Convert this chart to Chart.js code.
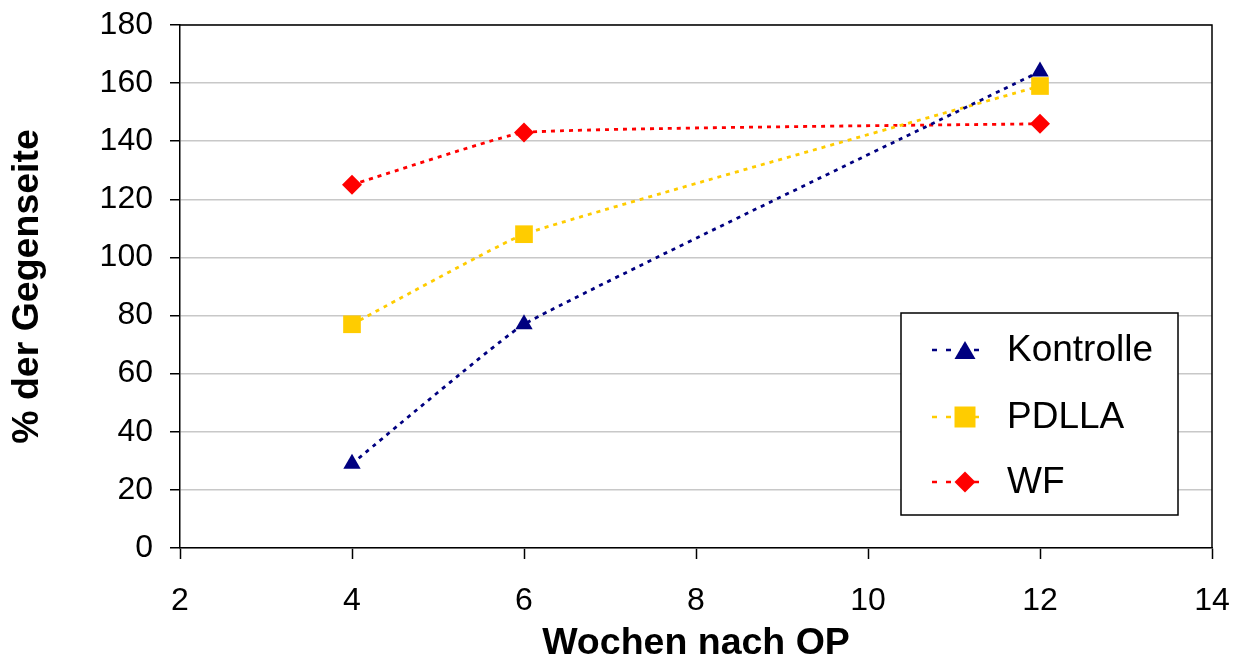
<!DOCTYPE html>
<html lang="de">
<head>
  <meta charset="UTF-8">
  <title>% der Gegenseite</title>
  <script src="https://cdn.jsdelivr.net/npm/chart.js"></script>
  <style>
    * {
      box-sizing: border-box;
      margin: 0;
      padding: 0;
    }

    body {
      background: #fff;
      width: 1240px;
      height: 662px;
      overflow: hidden;
    }

    .chart-box {
      position: relative;
      width: 1240px;
      height: 662px;
    }
  </style>
</head>
<body>
  <div class="chart-box">
    <canvas id="weeksChart" width="1240" height="662"></canvas>
  </div>

  <script>
    // values
    const weeks = [4, 6, 12];
    const kontrolle = [29, 77, 164];
    const pdlla = [77, 108, 159];
    const wf = [125, 143, 146];

    const seriesNames = ['Kontrolle', 'PDLLA', 'WF'];
    const seriesColors = ['#000080', '#FFCC00', '#FF0000'];
    const seriesMarkers = ['triangle', 'rect', 'rectRot'];
    const markerRadius = [10, 12.5, 10];

    const xMin = 2, xMax = 14, xStep = 2;
    const yMin = 0, yMax = 180, yStep = 20;

    const FONT = "'Liberation Sans', Arial, sans-serif";

    function toPoints(values) {
      return weeks.map((w, i) => ({ x: w, y: values[i] }));
    }

    const allSeries = [kontrolle, pdlla, wf];

    const datasets = allSeries.map((values, i) => ({
      label: seriesNames[i],
      data: toPoints(values),
      borderColor: seriesColors[i],
      backgroundColor: seriesColors[i],
      pointBackgroundColor: seriesColors[i],
      pointBorderColor: seriesColors[i],
      pointBorderWidth: 0,
      pointStyle: seriesMarkers[i],
      pointRadius: markerRadius[i],
      pointHoverRadius: markerRadius[i],
      borderWidth: 2.8,
      borderDash: [4, 5],
      tension: 0.1,
      fill: false
    }));

    // top and right border of the plot area
    const frame = {
      id: 'frame',
      beforeDatasetsDraw(chart) {
        const { ctx, chartArea: a } = chart;
        ctx.save();
        ctx.strokeStyle = '#000';
        ctx.lineWidth = 1.5;
        ctx.beginPath();
        ctx.moveTo(a.left, a.top);
        ctx.lineTo(a.right, a.top);
        ctx.lineTo(a.right, a.bottom);
        ctx.stroke();
        ctx.restore();
      }
    };

    function drawMarker(ctx, style, x, y, size) {
      ctx.beginPath();
      if (style === 'triangle') {
        const h = size * Math.sqrt(3) / 2;
        ctx.moveTo(x, y - h / 2);
        ctx.lineTo(x + size / 2, y + h / 2);
        ctx.lineTo(x - size / 2, y + h / 2);
      } else if (style === 'rect') {
        ctx.rect(x - size / 2, y - size / 2, size, size);
      } else {
        ctx.moveTo(x, y - size / 2);
        ctx.lineTo(x + size / 2, y);
        ctx.lineTo(x, y + size / 2);
        ctx.lineTo(x - size / 2, y);
      }
      ctx.closePath();
      ctx.fill();
    }

    // legend box inside the plot area, lower right
    const boxLegend = {
      id: 'boxLegend',
      afterDraw(chart) {
        const { ctx, chartArea: a } = chart;
        const bx = a.right - 311;
        const by = a.top + 288;
        const bw = 277;
        const bh = 202;
        ctx.save();
        ctx.fillStyle = '#fff';
        ctx.fillRect(bx, by, bw, bh);
        ctx.strokeStyle = '#000';
        ctx.lineWidth = 1.5;
        ctx.strokeRect(bx, by, bw, bh);

        const rows = [37, 104, 169];
        chart.data.datasets.forEach((ds, i) => {
          const y = by + rows[i];
          ctx.strokeStyle = ds.borderColor;
          ctx.lineWidth = 2.5;
          ctx.setLineDash([5, 9]);
          ctx.beginPath();
          ctx.moveTo(bx + 31, y);
          ctx.lineTo(bx + 87, y);
          ctx.stroke();
          ctx.setLineDash([]);
          ctx.fillStyle = ds.pointBackgroundColor;
          drawMarker(ctx, ds.pointStyle, bx + 64, y, 21);

          ctx.fillStyle = '#000';
          ctx.font = '37px ' + FONT;
          ctx.textAlign = 'left';
          ctx.textBaseline = 'middle';
          ctx.fillText(ds.label, bx + 106, y + 1);
        });
        ctx.restore();
      }
    };

    new Chart(document.getElementById('weeksChart'), {
      type: 'line',
      data: { datasets },
      options: {
        responsive: false,
        animation: false,
        layout: { padding: { top: 25, right: 28, left: 0, bottom: 0 } },
        plugins: {
          legend: { display: false },
          tooltip: { enabled: false }
        },
        scales: {
          x: {
            type: 'linear',
            min: xMin,
            max: xMax,
            afterFit(scale) {
              scale.height = 114;
              scale.paddingLeft = 0;
              scale.paddingRight = 0;
            },
            ticks: {
              stepSize: xStep,
              color: '#000',
              padding: 23,
              font: { family: FONT, size: 32 }
            },
            grid: {
              drawOnChartArea: false,
              tickLength: 11,
              tickColor: '#000',
              tickWidth: 1.5
            },
            border: { color: '#000', width: 1.5 },
            title: {
              display: true,
              text: 'Wochen nach OP',
              color: '#000',
              padding: { top: 0, bottom: -4 },
              font: { family: FONT, size: 37.5, weight: 'bold' }
            }
          },
          y: {
            min: yMin,
            max: yMax,
            afterFit(scale) {
              scale.width = 180;
              scale.paddingTop = 0;
              scale.paddingBottom = 0;
            },
            ticks: {
              stepSize: yStep,
              color: '#000',
              padding: 17,
              font: { family: FONT, size: 32 }
            },
            grid: {
              color: '#c8c8c8',
              lineWidth: 1.5,
              tickLength: 10,
              tickColor: '#000',
              tickWidth: 1.5
            },
            border: { color: '#000', width: 1.5 },
            title: {
              display: true,
              text: '% der Gegenseite',
              color: '#000',
              padding: { top: 5, bottom: 0 },
              font: { family: FONT, size: 37.5, weight: 'bold' }
            }
          }
        }
      },
      plugins: [frame, boxLegend]
    });
  </script>
</body>
</html>
